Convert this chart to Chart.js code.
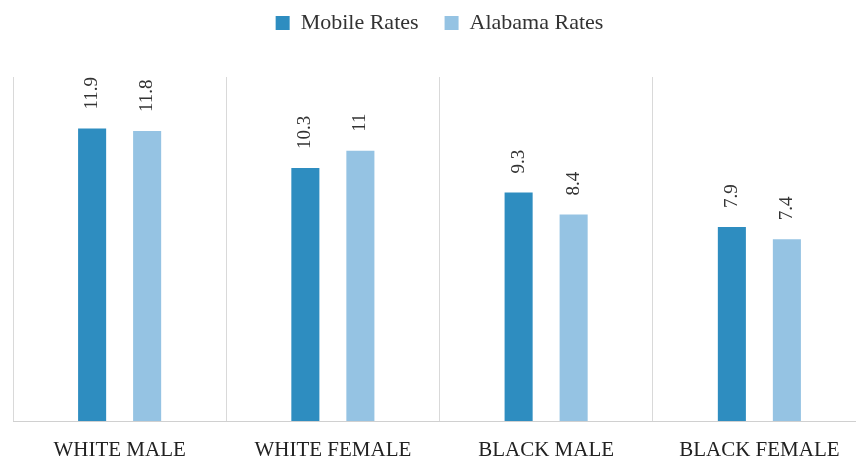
<!DOCTYPE html>
<html>
<head>
<meta charset="utf-8">
<script src="https://cdn.jsdelivr.net/npm/chart.js@4/dist/chart.umd.min.js"></script>
<style>
html,body{margin:0;padding:0;background:#fff;overflow:hidden;}
#wrap{width:880px;height:459px;}
</style>
</head>
<body>
<div id="wrap"><canvas id="c" width="880" height="459"></canvas></div>
<script>
const categories = ["WHITE MALE", "WHITE FEMALE", "BLACK MALE", "BLACK FEMALE"];
const mobileRates = [11.9, 10.3, 9.3, 7.9];
const alabamaRates = [11.8, 11, 8.4, 7.4];
const seriesNames = ["Mobile Rates", "Alabama Rates"];

const SERIF = "'Liberation Serif', 'DejaVu Serif', serif";

const valueLabels = {
  id: 'valueLabels',
  afterDatasetsDraw(chart) {
    const ctx = chart.ctx;
    ctx.save();
    ctx.font = "19px " + SERIF;
    ctx.fillStyle = "#333";
    ctx.textAlign = "left";
    ctx.textBaseline = "middle";
    chart.data.datasets.forEach((ds, di) => {
      const meta = chart.getDatasetMeta(di);
      meta.data.forEach((bar, i) => {
        ctx.save();
        ctx.translate(bar.x, bar.y - 19);
        ctx.rotate(-Math.PI / 2);
        ctx.fillText(String(ds.data[i]), 0, 0);
        ctx.restore();
      });
    });
    ctx.restore();
  }
};

const legendSpace = {
  id: 'legendSpace',
  beforeInit(chart) {
    const orig = chart.legend.fit;
    chart.legend.fit = function () {
      orig.bind(chart.legend)();
      this.height = 91;
    };
  }
};

new Chart(document.getElementById('c'), {
  type: 'bar',
  data: {
    labels: categories,
    datasets: [
      { label: seriesNames[0], data: mobileRates, backgroundColor: '#2E8DC0',
        barPercentage: 0.51, categoryPercentage: 0.516 },
      { label: seriesNames[1], data: alabamaRates, backgroundColor: '#95C3E3',
        barPercentage: 0.51, categoryPercentage: 0.516 }
    ]
  },
  options: {
    responsive: false,
    animation: false,
    layout: { padding: { left: 13, right: 14, top: -14, bottom: 0 } },
    plugins: {
      legend: {
        position: 'top',
        labels: {
          font: { family: SERIF, size: 22 },
          color: '#333',
          boxWidth: 14,
          boxHeight: 14,
          padding: 26
        }
      },
      tooltip: { enabled: false }
    },
    scales: {
      x: {
        grid: { display: true, offset: true, color: '#d9d9d9', drawTicks: false },
        border: { display: true, color: '#d0d0d0' },
        ticks: { font: { family: SERIF, size: 21 }, color: '#222', padding: 17 },
        afterFit(scale) { scale.height = 38; }
      },
      y: {
        display: false,
        min: 0,
        max: 14
      }
    }
  },
  plugins: [valueLabels, legendSpace]
});
</script>
</body>
</html>
